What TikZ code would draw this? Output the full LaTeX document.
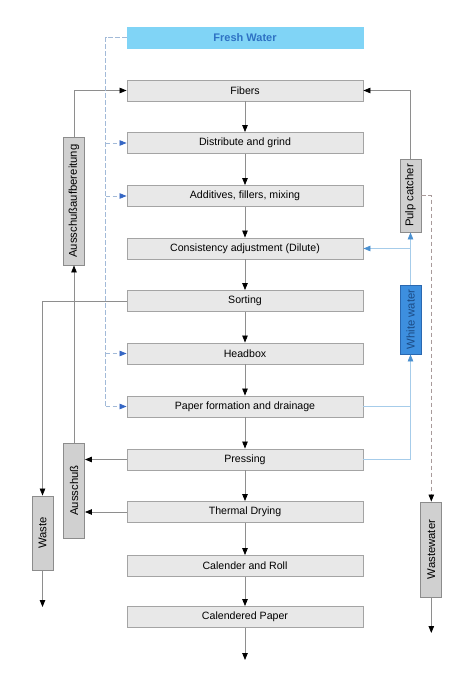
\documentclass[tikz,border=0pt]{standalone}
\usepackage{fontspec}
\setmainfont{Liberation Sans}
\usetikzlibrary{arrows.meta}
\definecolor{boxfill}{HTML}{E8E8E8}
\definecolor{boxline}{HTML}{A4A4A4}
\definecolor{sidefill}{HTML}{D0D0D0}
\definecolor{sideline}{HTML}{8C8C8C}
\definecolor{linegray}{HTML}{8E8E8E}
\definecolor{freshfill}{HTML}{80D4F6}
\definecolor{freshtext}{HTML}{2E72C4}
\definecolor{wwfill}{HTML}{3D8FDF}
\definecolor{wwline}{HTML}{2A68B0}
\definecolor{wwtext}{HTML}{1C4C86}
\definecolor{lightblue}{HTML}{A6CCEA}
\definecolor{tipblue}{HTML}{4A90D0}
\definecolor{dashblue}{HTML}{A2BAD8}
\definecolor{dashtip}{HTML}{3566C4}
\definecolor{dashgray}{HTML}{A89A9A}
\begin{document}
\begin{tikzpicture}[x=1pt,y=1pt,
  mainbox/.style={draw=boxline,fill=boxfill,line width=0.9pt,minimum width=236pt,minimum height=21pt,inner sep=0pt,font=\fontsize{10.6}{12}\selectfont},
  sidebox/.style={draw=sideline,fill=sidefill,line width=0.9pt,minimum height=21pt,inner sep=0pt,rotate=90,font=\fontsize{11.3}{13}\selectfont},
  flow/.style={draw=linegray,line width=0.8pt,-{Triangle[length=7pt,width=5.5pt,fill=black,color=black]}},
  blueflow/.style={draw=lightblue,line width=0.8pt,-{Triangle[length=7pt,width=5.5pt,color=tipblue]}},
  blueplain/.style={draw=lightblue,line width=0.8pt},
  dashflow/.style={draw=dashblue,line width=0.8pt,dash pattern=on 4.5pt off 2.5pt,-{Triangle[length=7pt,width=5.5pt,color=dashtip]}},
  dashplain/.style={draw=dashblue,line width=0.8pt,dash pattern=on 4.5pt off 2.5pt},
  grayflow/.style={draw=dashgray,line width=0.8pt,dash pattern=on 4.5pt off 2.5pt,-{Triangle[length=7pt,width=5.5pt,fill=black,color=black]}}
]
\useasboundingbox (0,0) rectangle (474,-693);
% main column
\node[draw=freshfill,fill=freshfill,minimum width=236pt,minimum height=21pt,inner sep=0pt,font=\fontsize{11}{13}\selectfont\bfseries,text=freshtext] (fresh) at (245,-37.5) {Fresh\ Water};
\node[mainbox] (fib) at (245,-90.5) {Fibers};
\node[mainbox] (dis) at (245,-143) {Distribute and grind};
\node[mainbox] (add) at (245,-196) {Additives, fillers, mixing};
\node[mainbox] (con) at (245,-248.5) {Consistency adjustment (Dilute)};
\node[mainbox] (sor) at (245,-301) {Sorting};
\node[mainbox] (head) at (245,-353.5) {Headbox};
\node[mainbox] (form) at (245,-406.5) {Paper formation and drainage};
\node[mainbox] (press) at (245,-459.5) {Pressing};
\node[mainbox] (dry) at (245,-512) {Thermal Drying};
\node[mainbox] (cal) at (245,-566) {Calender and Roll};
\node[mainbox] (paper) at (245,-617) {Calendered Paper};
\coordinate (endp) at (245,-660);
% side boxes
\node[sidebox,minimum width=128pt] (aufb) at (74,-201) {Ausschußaufbereitung};
\node[sidebox,minimum width=95pt] (aus) at (74,-490.5) {Ausschuß};
\node[sidebox,minimum width=74pt] (waste) at (42.5,-533) {Waste};
\node[sidebox,minimum width=73pt] (pulp) at (410.5,-195.5) {Pulp catcher};
\node[draw=wwline,fill=wwfill,line width=0.9pt,minimum height=21pt,minimum width=69pt,inner sep=0pt,font=\fontsize{11.3}{13}\selectfont,text=wwtext,rotate=90] (ww) at (410.5,-319.5) {White water};
\node[sidebox,minimum width=95pt] (wwat) at (431.3,-549.5) {Wastewater};
\coordinate (wasteend) at (42.5,-607);
\coordinate (wwatend) at (431.3,-633);
% main vertical arrows
\draw[flow] (fib) -- (dis);
\draw[flow] (dis) -- (add);
\draw[flow] (add) -- (con);
\draw[flow] (con) -- (sor);
\draw[flow] (sor) -- (head);
\draw[flow] (head) -- (form);
\draw[flow] (form) -- (press);
\draw[flow] (press) -- (dry);
\draw[flow] (dry) -- (cal);
\draw[flow] (cal) -- (paper);
\draw[flow] (paper) -- (endp);
% left side
\draw[flow] (aufb.east) |- (fib.west);
\draw[flow] (aus.east) -- (aufb.west);
\draw[flow] (press.west) -- (press.west -| aus.south);
\draw[flow] (dry.west) -- (dry.west -| aus.south);
\draw[flow] (sor.west) -| (waste.east);
\draw[flow] (waste.west) -- (wasteend);
% dashed fresh water distribution
\coordinate (dtop) at (105.5,-37.5);
\coordinate (dbot) at (105.5,-406.5);
\draw[dashplain] (fresh.west) -- (dtop) -- (dbot);
\draw[dashflow] (dis.west -| dtop) -- (dis.west);
\draw[dashflow] (add.west -| dtop) -- (add.west);
\draw[dashflow] (head.west -| dtop) -- (head.west);
\draw[dashflow] (dbot) -- (form.west);
% right side
\draw[flow] (pulp.east) |- (fib.east);
\draw[blueplain] (form.east) -- (form.east -| ww.west);
\draw[blueflow] (press.east) -| (ww.west);
\draw[blueflow] (ww.east) -- (pulp.west);
\draw[blueflow] (con.east -| ww.east) -- (con.east);
\coordinate (gcorner) at (431.3,-195.5);
\draw[grayflow] (pulp.south) -- (gcorner) -- (wwat.east);
\draw[flow] (wwat.west) -- (wwatend);
\end{tikzpicture}
\end{document}
